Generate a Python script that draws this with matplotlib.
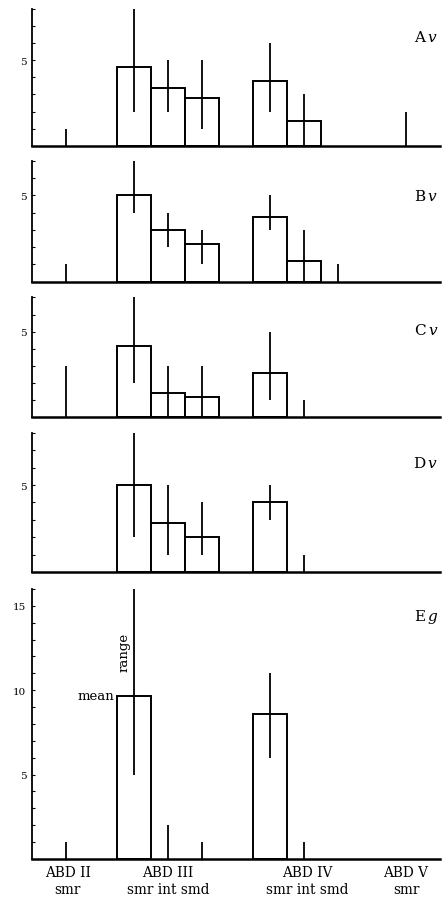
import matplotlib
matplotlib.use('Agg')
import matplotlib.pyplot as plt
import numpy as np

nan = np.nan

# slot positions: ABD II smr | ABD III smr int smd | ABD IV smr int smd | ABD V smr
positions = [0, 2, 3, 4, 6, 7, 8, 10]

A_mean = [0, 4.6, 3.4, 2.8, 3.8, 1.45, nan, 0]
A_lo = [0, 2, 2, 1, 2, 0, nan, 0]
A_hi = [1, 8, 5, 5, 6, 3, nan, 2]

B_mean = [0, 5.0, 3.0, 2.2, 3.75, 1.2, 0, nan]
B_lo = [0, 4, 2, 1, 3, 0, 0, nan]
B_hi = [1, 7, 4, 3, 5, 3, 1, nan]

C_mean = [0, 4.15, 1.4, 1.2, 2.6, 0, nan, nan]
C_lo = [0, 2, 0, 0, 1, 0, nan, nan]
C_hi = [3, 7, 3, 3, 5, 1, nan, nan]

D_mean = [nan, 5.0, 2.8, 2.0, 4.0, 0, nan, nan]
D_lo = [nan, 2, 1, 1, 3, 0, nan, nan]
D_hi = [nan, 8, 5, 4, 5, 1, nan, nan]

E_mean = [0, 9.65, 0, 0, 8.6, 0, nan, nan]
E_lo = [0, 5, 0, 0, 6, 0, nan, nan]
E_hi = [1, 16, 2, 1, 11, 1, nan, nan]

panel_labels = [r'A$\,\mathit{v}$', r'B$\,\mathit{v}$', r'C$\,\mathit{v}$',
                r'D$\,\mathit{v}$', r'E$\,\mathit{g}$']
label_y = [6.4, 5.0, 5.1, 6.3, 14.4]
ymax = [8, 7, 7, 8, 16]
major_ticks = [[5], [5], [5], [5], [5, 10, 15]]

group_pos = [0.05, 3, 7.1, 10]
group_labels = ['ABD II\nsmr', 'ABD III\nsmr int smd', 'ABD IV\nsmr int smd', 'ABD V\nsmr']

plt.rcParams['font.family'] = 'DejaVu Serif'
plt.rcParams['mathtext.fontset'] = 'dejavuserif'

# axes boxes in figure fractions [left, bottom, width, height]
boxes = [
    [0.0722, 0.8377, 0.921, 0.1512],
    [0.0722, 0.6873, 0.921, 0.1338],
    [0.0722, 0.5373, 0.921, 0.1326],
    [0.0722, 0.3658, 0.921, 0.1545],
    [0.0722, 0.0487, 0.921, 0.2987],
]

data = [(A_mean, A_lo, A_hi), (B_mean, B_lo, B_hi), (C_mean, C_lo, C_hi),
        (D_mean, D_lo, D_hi), (E_mean, E_lo, E_hi)]

fig = plt.figure(figsize=(4.43, 9.04), dpi=100)

for i, (box, (mean, lo, hi)) in enumerate(zip(boxes, data)):
    ax = fig.add_axes(box)
    pos = np.array(positions, dtype=float)
    mean = np.array(mean)
    lo = np.array(lo)
    hi = np.array(hi)
    ok = ~np.isnan(mean)
    bars = mean[ok] > 0
    ax.bar(pos[ok][bars], mean[ok][bars], width=1.0, facecolor='white',
           edgecolor='black', linewidth=1.4, zorder=2)
    ax.vlines(pos[ok], lo[ok], hi[ok], colors='black', linewidth=1.3, zorder=3)

    ax.set_xlim(-1, 11)
    ax.set_ylim(0, ymax[i])
    ax.spines['top'].set_visible(False)
    ax.spines['right'].set_visible(False)
    ax.spines['left'].set_linewidth(1.3)
    ax.spines['bottom'].set_linewidth(1.8)
    ax.spines['bottom'].set_zorder(4)
    ax.set_yticks(major_ticks[i])
    ax.set_yticks(np.arange(1, ymax[i] + 1), minor=True)
    ax.tick_params(axis='y', which='both', direction='in', length=2.5, width=0.8,
                   labelsize=7.5, pad=4)
    ax.text(10.95, label_y[i], panel_labels[i], ha='right', va='center', fontsize=11)

    if i < 4:
        ax.set_xticks([])
    else:
        ax.set_xticks(group_pos)
        ax.set_xticklabels(group_labels, fontsize=9.8, linespacing=1.35)
        ax.tick_params(axis='x', length=0, pad=4)
        ax.text(1.42, 9.7, 'mean', ha='right', va='center', fontsize=9.5)
        ax.text(1.72, 12.3, 'range', ha='center', va='center', rotation=90, fontsize=9.5)

fig.savefig('out.png', dpi=100)
